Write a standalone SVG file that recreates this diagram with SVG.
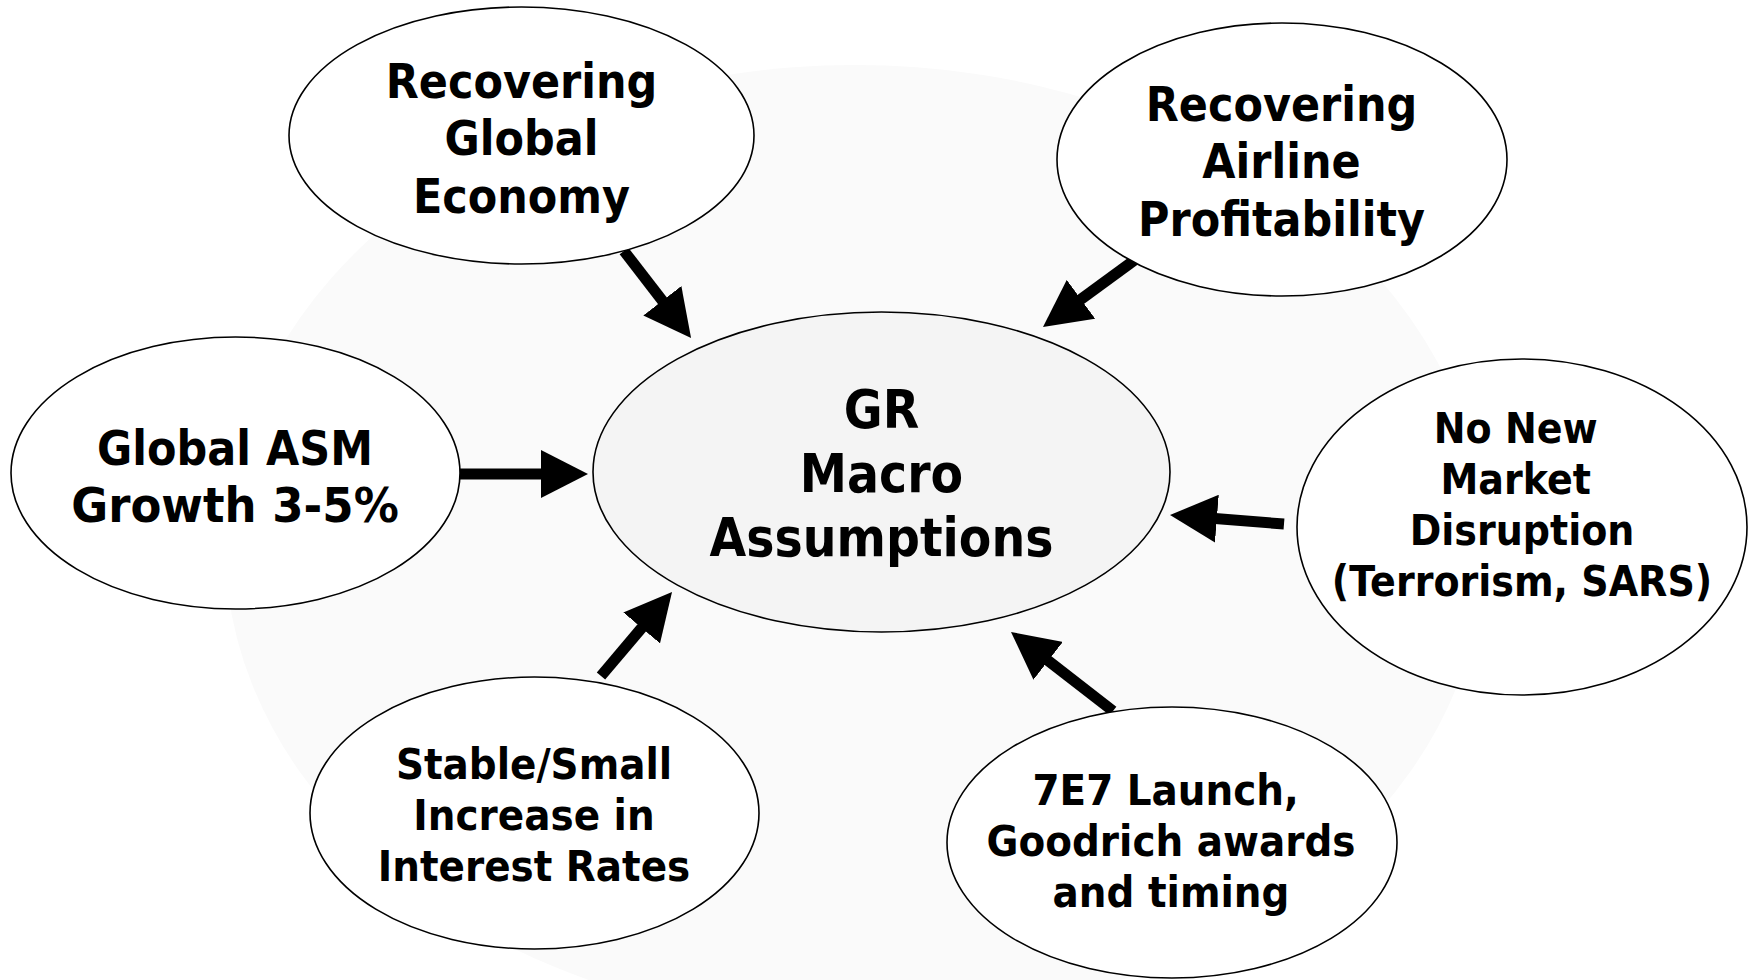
<svg xmlns="http://www.w3.org/2000/svg" width="1750" height="980" viewBox="0 0 1750 980">
  <defs>
    <marker id="head" markerUnits="userSpaceOnUse" markerWidth="48" markerHeight="48" viewBox="0 0 48 48" refX="5" refY="24" orient="auto">
      <path d="M0,0 L47,24 L0,48 Z" fill="#000"/>
    </marker>
    <style>
      .bg { fill: #fafafa; stroke: none; }
      .node { fill: #ffffff; stroke: #000; stroke-width: 1.6; }
      .hub { fill: #f4f4f4; stroke: #000; stroke-width: 1.6; }
      .lbl { font-family: "DejaVu Sans", Verdana, "Liberation Sans", sans-serif; font-weight: bold; fill: #000; text-anchor: middle; }
      .edge { stroke: #000; stroke-width: 11; fill: none; marker-end: url(#head); }
    </style>
  </defs>
  <rect width="1750" height="980" fill="#ffffff"/>
  <ellipse class="bg" cx="855" cy="545" rx="630" ry="480"/>

  <g id="connectors">
    <line class="edge" x1="624" y1="251" x2="665.4" y2="304.7"/>
    <line class="edge" x1="1136" y1="259" x2="1076.9" y2="302.2"/>
    <line class="edge" x1="460" y1="474" x2="546" y2="474"/>
    <line class="edge" x1="601" y1="676" x2="644.9" y2="624.1"/>
    <line class="edge" x1="1284" y1="524" x2="1211.9" y2="518.3"/>
    <line class="edge" x1="1113" y1="711" x2="1044.2" y2="657.7"/>
  </g>

  <g id="hub">
    <ellipse class="hub" cx="881.5" cy="472" rx="288.5" ry="160"/>
    <g class="lbl" font-size="53" transform="translate(881.5 0) scale(0.895 1)">
      <text x="0" y="428">GR</text>
      <text x="0" y="492">Macro</text>
      <text x="0" y="556">Assumptions</text>
    </g>
  </g>

  <g id="global-economy">
    <ellipse class="node" cx="521.5" cy="135.5" rx="232.5" ry="128.5"/>
    <g class="lbl" font-size="48" transform="translate(521.5 0) scale(0.895 1)">
      <text x="0" y="98">Recovering</text>
      <text x="0" y="155.5">Global</text>
      <text x="0" y="213">Economy</text>
    </g>
  </g>

  <g id="airline-profitability">
    <ellipse class="node" cx="1282" cy="159.5" rx="225" ry="136.5"/>
    <g class="lbl" font-size="48" transform="translate(1281.5 0) scale(0.895 1)">
      <text x="0" y="121">Recovering</text>
      <text x="0" y="178.5">Airline</text>
      <text x="0" y="236">Profitability</text>
    </g>
  </g>

  <g id="asm-growth">
    <ellipse class="node" cx="235.5" cy="473" rx="224.5" ry="136"/>
    <g class="lbl" font-size="48" transform="translate(235 0) scale(0.895 1)">
      <text x="0" y="465">Global ASM</text>
      <text x="0" y="522" textLength="366" lengthAdjust="spacingAndGlyphs">Growth 3-5%</text>
    </g>
  </g>

  <g id="market-disruption">
    <ellipse class="node" cx="1522" cy="527" rx="225" ry="168"/>
    <g class="lbl" font-size="42.5" transform="translate(1522 0) scale(0.895 1)">
      <text x="-7" y="443">No New</text>
      <text x="-7" y="494">Market</text>
      <text x="0" y="545">Disruption</text>
      <text x="0" y="596">(Terrorism, SARS)</text>
    </g>
  </g>

  <g id="interest-rates">
    <ellipse class="node" cx="534.5" cy="813" rx="224.5" ry="136"/>
    <g class="lbl" font-size="43.5" transform="translate(534 0) scale(0.895 1)">
      <text x="0" y="779">Stable/Small</text>
      <text x="0" y="830">Increase in</text>
      <text x="0" y="881">Interest Rates</text>
    </g>
  </g>

  <g id="7e7-launch">
    <ellipse class="node" cx="1172" cy="842.5" rx="225" ry="135.5"/>
    <g class="lbl" font-size="43.5" transform="translate(1171 0) scale(0.895 1)">
      <text x="-6" y="805">7E7 Launch,</text>
      <text x="0" y="856">Goodrich awards</text>
      <text x="0" y="907">and timing</text>
    </g>
  </g>
</svg>
